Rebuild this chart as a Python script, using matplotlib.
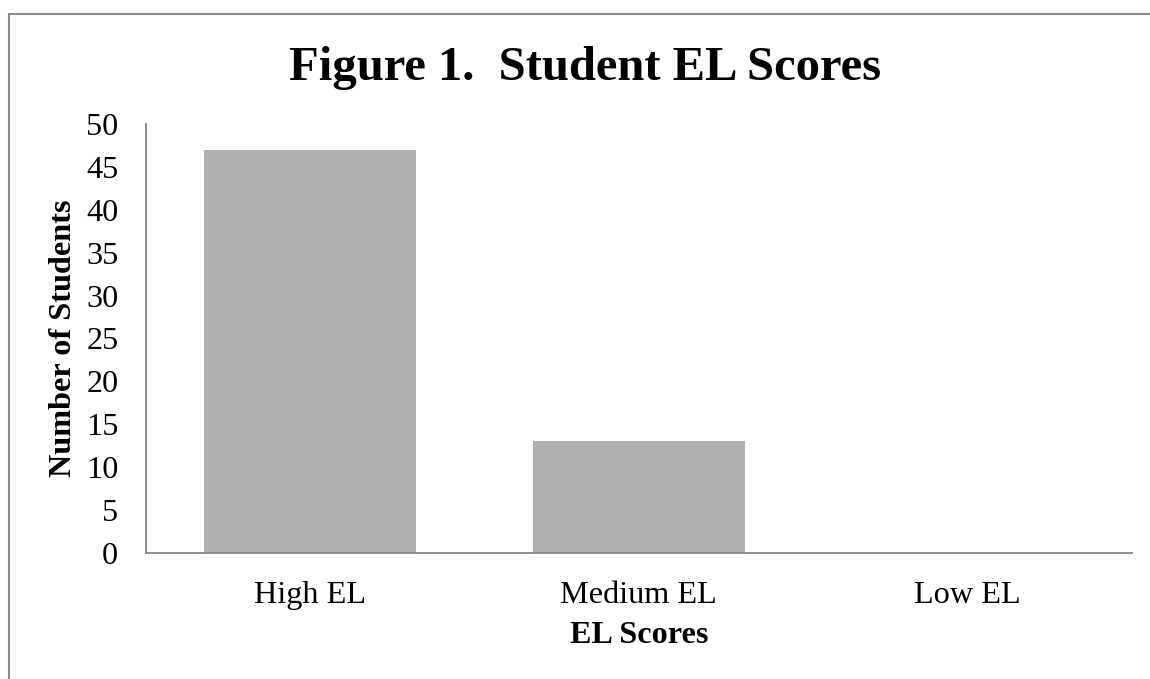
import matplotlib
matplotlib.use("Agg")
import matplotlib.pyplot as plt
from matplotlib.lines import Line2D

categories = ["High EL", "Medium EL", "Low EL"]
values = [47, 13, 0]
yticks = [0, 5, 10, 15, 20, 25, 30, 35, 40, 45, 50]

plt.rcParams['font.family'] = ['Liberation Serif', 'DejaVu Serif']

fig = plt.figure(figsize=(11.5, 6.79), dpi=100)
ax = fig.add_axes([0.127, 0.1856, 0.857, 0.6318])

x = range(len(categories))
ax.bar(x, values, width=0.645, color='#b0b0b0', edgecolor='none')
ax.set_xlim(-0.5, len(categories) - 0.5)
ax.set_ylim(0, 50)
ax.set_yticks(yticks)
ax.set_xticks(list(x))
ax.set_xticklabels(categories)
ax.tick_params(axis='both', length=0, labelsize=23.2, colors='black')
ax.tick_params(axis='y', pad=20)
ax.tick_params(axis='x', pad=20)
for s in ['top', 'right']:
    ax.spines[s].set_visible(False)
for s in ['left', 'bottom']:
    ax.spines[s].set_color('#868686')
    ax.spines[s].set_linewidth(1.3)

ax.set_ylabel("Number of Students", fontsize=23.2, fontweight='bold')
ax.set_xlabel("EL Scores", fontsize=23.2, fontweight='bold')
ax.yaxis.set_label_coords(-0.069, 0.5)
ax.xaxis.set_label_coords(0.5, -0.158)
fig.text(0.509, 1 - 80/679, "Figure 1.  Student EL Scores", fontsize=35, fontweight='bold',
         ha='center', va='baseline')

# outer border
bc = '#8c8c8c'
fig.add_artist(Line2D([9/1150, 9/1150], [0, 1 - 14/679], transform=fig.transFigure, color=bc, lw=1.5))
fig.add_artist(Line2D([9/1150, 1.0], [1 - 14/679, 1 - 14/679], transform=fig.transFigure, color=bc, lw=1.5))

fig.savefig("out.png", dpi=100)
